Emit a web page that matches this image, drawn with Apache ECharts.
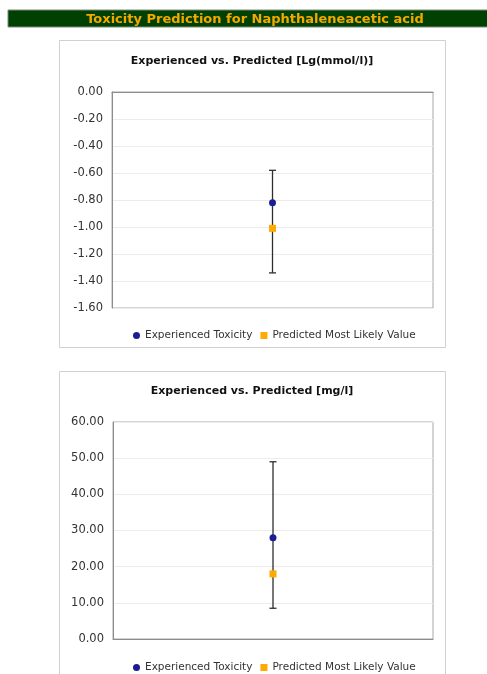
<!DOCTYPE html>
<html>
<head>
<meta charset="utf-8">
<script src="https://cdn.jsdelivr.net/npm/echarts@6/dist/echarts.min.js"></script>
<style>
  html, body { margin: 0; padding: 0; background: #fff; }
  #main { width: 487px; height: 674px; }
</style>
</head>
<body>
<div id="main"></div>
<script>
// data
var categories = ["Naphthaleneacetic acid"];
var lgExperienced = [-0.82];
var lgPredicted = [-1.01];
var lgRange = [[-0.58, -1.34]];   // [high, low]
var mgExperienced = [28.0];
var mgPredicted = [18.0];
var mgRange = [[49.0, 8.5]];
var lgTicks = { min: -1.6, max: 0, interval: 0.2 };
var mgTicks = { min: 0, max: 60, interval: 10 };

var FONT = "DejaVu Sans";
var chart = echarts.init(document.getElementById("main"));

function errorBar(params, api) {
  var top = api.coord([api.value(0), api.value(1)]);
  var bot = api.coord([api.value(0), api.value(2)]);
  var st = { stroke: "#2e2e2e", lineWidth: 1.3 };
  var w = 3.5;
  return {
    type: "group",
    children: [
      { type: "line", shape: { x1: top[0], y1: top[1], x2: bot[0], y2: bot[1] }, style: st },
      { type: "line", shape: { x1: top[0] - w, y1: top[1], x2: top[0] + w, y2: top[1] }, style: st },
      { type: "line", shape: { x1: bot[0] - w, y1: bot[1], x2: bot[0] + w, y2: bot[1] }, style: st }
    ]
  };
}

function rangeData(r) {
  return r.map(function (d, i) { return [i, d[0], d[1]]; });
}

function yAx(idx, t) {
  return {
    type: "value", gridIndex: idx, min: t.min, max: t.max, interval: t.interval,
    axisLine: { show: true, lineStyle: { color: "#8c8c8c" } },
    axisTick: { show: false },
    splitLine: { lineStyle: { color: "#ececec" } },
    axisLabel: {
      fontFamily: FONT, fontSize: 11.5, color: "#333", margin: 9,
      formatter: function (v) { return v.toFixed(2); }
    }
  };
}

function xAx(idx) {
  return {
    type: "category", gridIndex: idx, data: categories,
    axisLine: { show: true, lineStyle: { color: "#8c8c8c" } },
    axisTick: { show: false }, axisLabel: { show: false }, splitLine: { show: false }
  };
}

var legendItems = [{ name: "Experienced Toxicity", icon: "circle" }, { name: "Predicted Most Likely Value", icon: "rect" }];

var option = {
  animation: false,
  graphic: [
    { type: "rect", shape: { x: 8, y: 10, width: 485, height: 17 }, style: { fill: "#004000", stroke: "#7a8a7a", lineWidth: 1 } },
    { type: "rect", shape: { x: 59.5, y: 40.5, width: 386, height: 307 }, style: { fill: "#fff", stroke: "#d0d0d0", lineWidth: 1 }, z: -1 },
    { type: "rect", shape: { x: 59.5, y: 371.5, width: 386, height: 320 }, style: { fill: "#fff", stroke: "#d0d0d0", lineWidth: 1 }, z: -1 }
  ],
  title: [
    { text: "Toxicity Prediction for Naphthaleneacetic acid", left: 250, top: 8.5, textAlign: "center",
      textStyle: { fontFamily: FONT, fontSize: 13, fontWeight: "bold", color: "#f5a800" } },
    { text: "Experienced vs. Predicted [Lg(mmol/l)]", left: 247, top: 51, textAlign: "center",
      textStyle: { fontFamily: FONT, fontSize: 11, fontWeight: "bold", color: "#111" } },
    { text: "Experienced vs. Predicted [mg/l]", left: 247, top: 381, textAlign: "center",
      textStyle: { fontFamily: FONT, fontSize: 11, fontWeight: "bold", color: "#111" } }
  ],
  legend: [
    { left: 128, top: 325, itemWidth: 7, itemHeight: 7, itemGap: 8,
      textStyle: { fontFamily: FONT, fontSize: 10.5, color: "#333" }, data: legendItems },
    { left: 128, top: 657, itemWidth: 7, itemHeight: 7, itemGap: 8,
      textStyle: { fontFamily: FONT, fontSize: 10.5, color: "#333" }, data: legendItems }
  ],
  grid: [
    { left: 112, top: 92, width: 321, height: 216, show: true, borderColor: "#a8a8a8", borderWidth: 1 },
    { left: 113, top: 422, width: 320, height: 217, show: true, borderColor: "#a8a8a8", borderWidth: 1 }
  ],
  xAxis: [xAx(0), xAx(1)],
  yAxis: [yAx(0, lgTicks), yAx(1, mgTicks)],
  series: [
    { type: "custom", xAxisIndex: 0, yAxisIndex: 0, renderItem: errorBar, data: rangeData(lgRange), z: 1, silent: true },
    { name: "Experienced Toxicity", type: "scatter", xAxisIndex: 0, yAxisIndex: 0, symbol: "circle", symbolSize: 7,
      itemStyle: { color: "#1c1c94", opacity: 1 }, data: lgExperienced, z: 3 },
    { name: "Predicted Most Likely Value", type: "scatter", xAxisIndex: 0, yAxisIndex: 0, symbol: "rect", symbolSize: 7,
      itemStyle: { color: "#ffaa00", opacity: 1 }, data: lgPredicted, z: 3 },
    { type: "custom", xAxisIndex: 1, yAxisIndex: 1, renderItem: errorBar, data: rangeData(mgRange), z: 1, silent: true },
    { name: "Experienced Toxicity", type: "scatter", xAxisIndex: 1, yAxisIndex: 1, symbol: "circle", symbolSize: 7,
      itemStyle: { color: "#1c1c94", opacity: 1 }, data: mgExperienced, z: 3 },
    { name: "Predicted Most Likely Value", type: "scatter", xAxisIndex: 1, yAxisIndex: 1, symbol: "rect", symbolSize: 7,
      itemStyle: { color: "#ffaa00", opacity: 1 }, data: mgPredicted, z: 3 }
  ]
};

chart.setOption(option);
</script>
</body>
</html>
